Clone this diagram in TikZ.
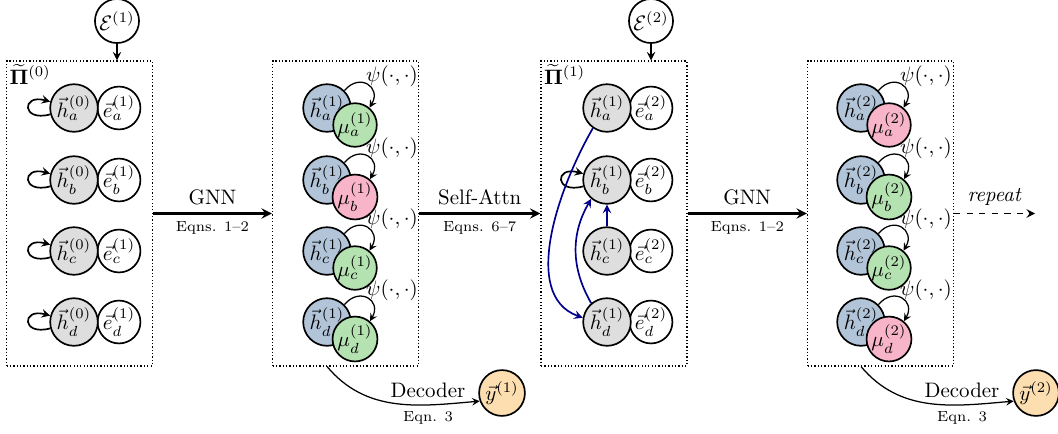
\documentclass[tikz,border=0pt]{standalone}
\usepackage{amsmath}
\usepackage{amssymb}
\usetikzlibrary{shapes}

\definecolor{hgray}{RGB}{222,222,222}
\definecolor{hblue}{RGB}{178,196,216}
\definecolor{mgreen}{RGB}{180,226,176}
\definecolor{mpink}{RGB}{248,180,200}
\definecolor{yorange}{RGB}{253,222,176}
\definecolor{attn}{RGB}{0,0,140}

\begin{document}
\begin{tikzpicture}[x=0.0168cm, y=0.0168cm, >=stealth,
  hnode/.style={circle, draw, thick, inner sep=0pt, minimum size=0.80cm, fill=#1},
  enode/.style={circle, draw, thick, inner sep=0pt, minimum size=0.72cm, fill=white},
  mnode/.style={circle, draw, thick, inner sep=0pt, minimum size=0.67cm, fill=#1},
  ynode/.style={circle, draw, thick, inner sep=0pt, minimum size=0.77cm, fill=yorange},
  panel/.style={draw, densely dotted, semithick, minimum width=2.45cm, minimum height=5.12cm},
  selfloop/.style={->, thick, looseness=6},
  psiarrow/.style={->, semithick, looseness=2}]

  \useasboundingbox (0,0) rectangle (1058,-433);

  % Pi^(0)
  \node[panel] (P0) at (79.5,-213.5) {};
  \node[anchor=north west, inner sep=1.5pt] (T0) at (P0.north west) {$\widetilde{\mathbf{\Pi}}^{(0)}$};
  \node[enode, minimum size=0.74cm] (X1) at (117,-21) {$\mathcal{E}^{(1)}$};
  \draw[->, thick] (X1) -- (X1 |- P0.north);

  \node[enode] (E0a) at (119,-108) {$\vec{e}_a^{(1)}$};
  \node[hnode=hgray] (H0a) at (74,-108) {$\vec{h}_a^{(0)}$};
  \node[enode] (E0b) at (119,-180) {$\vec{e}_b^{(1)}$};
  \node[hnode=hgray] (H0b) at (74,-180) {$\vec{h}_b^{(0)}$};
  \node[enode] (E0c) at (119,-251) {$\vec{e}_c^{(1)}$};
  \node[hnode=hgray] (H0c) at (74,-251) {$\vec{h}_c^{(0)}$};
  \node[enode] (E0d) at (119,-322) {$\vec{e}_d^{(1)}$};
  \node[hnode=hgray] (H0d) at (74,-322) {$\vec{h}_d^{(0)}$};
  \draw[selfloop] (H0a.195) to[out=195, in=165] (H0a.165);
  \draw[selfloop] (H0b.195) to[out=195, in=165] (H0b.165);
  \draw[selfloop] (H0c.195) to[out=195, in=165] (H0c.165);
  \draw[selfloop] (H0d.195) to[out=195, in=165] (H0d.165);

  % after GNN
  \node[panel] (P1) at (345.5,-213.5) {};
  \node[hnode=hblue] (H1a) at (327,-108) {$\vec{h}_a^{(1)}$};
  \node[mnode=mgreen] (M1a) at (355,-125) {$\mu_a^{(1)}$};
  \node[hnode=hblue] (H1b) at (327,-180) {$\vec{h}_b^{(1)}$};
  \node[mnode=mpink] (M1b) at (355,-197) {$\mu_b^{(1)}$};
  \node[hnode=hblue] (H1c) at (327,-251) {$\vec{h}_c^{(1)}$};
  \node[mnode=mgreen] (M1c) at (355,-268) {$\mu_c^{(1)}$};
  \node[hnode=hblue] (H1d) at (327,-322) {$\vec{h}_d^{(1)}$};
  \node[mnode=mgreen] (M1d) at (355,-339) {$\mu_d^{(1)}$};
  \node (S1a) at (392,-76) {$\psi(\cdot,\cdot)$};
  \node (S1b) at (392,-148) {$\psi(\cdot,\cdot)$};
  \node (S1c) at (392,-219) {$\psi(\cdot,\cdot)$};
  \node (S1d) at (392,-290) {$\psi(\cdot,\cdot)$};
  \draw[psiarrow] (H1a.45) to[out=50, in=60] (M1a.50);
  \draw[psiarrow] (H1b.45) to[out=50, in=60] (M1b.50);
  \draw[psiarrow] (H1c.45) to[out=50, in=60] (M1c.50);
  \draw[psiarrow] (H1d.45) to[out=50, in=60] (M1d.50);

  \node[ynode] (Y1) at (502,-393) {$\vec{y}^{(1)}$};
  \draw[->, semithick] (P1.south -| H1a) to[out=-50, in=185] (Y1.200);
  \node (D1) at (428,-390) {Decoder};
  \node[font=\scriptsize] (Q1) at (428,-418) {Eqn. 3};

  % Pi^(1)
  \node[panel] (P2) at (614,-213.5) {};
  \node[anchor=north west, inner sep=1.5pt] (T2) at (P2.north west) {$\widetilde{\mathbf{\Pi}}^{(1)}$};
  \node[enode, minimum size=0.74cm] (X2) at (651,-21) {$\mathcal{E}^{(2)}$};
  \draw[->, thick] (X2) -- (X2 |- P2.north);

  \node[enode] (E2a) at (651,-108) {$\vec{e}_a^{(2)}$};
  \node[hnode=hgray] (H2a) at (607,-108) {$\vec{h}_a^{(1)}$};
  \node[enode] (E2b) at (651,-180) {$\vec{e}_b^{(2)}$};
  \node[hnode=hgray] (H2b) at (607,-180) {$\vec{h}_b^{(1)}$};
  \node[enode] (E2c) at (651,-251) {$\vec{e}_c^{(2)}$};
  \node[hnode=hgray] (H2c) at (607,-251) {$\vec{h}_c^{(1)}$};
  \node[enode] (E2d) at (651,-322) {$\vec{e}_d^{(2)}$};
  \node[hnode=hgray] (H2d) at (607,-322) {$\vec{h}_d^{(1)}$};
  \draw[selfloop] (H2b.195) to[out=195, in=165] (H2b.165);
  \draw[->, thick, attn] (H2c) -- (H2b);
  \draw[->, thick, attn] (H2d.130) to[out=120, in=240] (H2b.230);
  \draw[->, thick, attn] (H2a.235) to[out=240, in=160, looseness=0.9] (H2d.170);

  % after GNN
  \node[panel] (P3) at (880.5,-213.5) {};
  \node[hnode=hblue] (H3a) at (861,-108) {$\vec{h}_a^{(2)}$};
  \node[mnode=mpink] (M3a) at (889,-125) {$\mu_a^{(2)}$};
  \node[hnode=hblue] (H3b) at (861,-180) {$\vec{h}_b^{(2)}$};
  \node[mnode=mgreen] (M3b) at (889,-197) {$\mu_b^{(2)}$};
  \node[hnode=hblue] (H3c) at (861,-251) {$\vec{h}_c^{(2)}$};
  \node[mnode=mgreen] (M3c) at (889,-268) {$\mu_c^{(2)}$};
  \node[hnode=hblue] (H3d) at (861,-322) {$\vec{h}_d^{(2)}$};
  \node[mnode=mpink] (M3d) at (889,-339) {$\mu_d^{(2)}$};
  \node (S3a) at (926,-76) {$\psi(\cdot,\cdot)$};
  \node (S3b) at (926,-148) {$\psi(\cdot,\cdot)$};
  \node (S3c) at (926,-219) {$\psi(\cdot,\cdot)$};
  \node (S3d) at (926,-290) {$\psi(\cdot,\cdot)$};
  \draw[psiarrow] (H3a.45) to[out=50, in=60] (M3a.50);
  \draw[psiarrow] (H3b.45) to[out=50, in=60] (M3b.50);
  \draw[psiarrow] (H3c.45) to[out=50, in=60] (M3c.50);
  \draw[psiarrow] (H3d.45) to[out=50, in=60] (M3d.50);

  \node[ynode] (Y2) at (1036,-393) {$\vec{y}^{(2)}$};
  \draw[->, semithick] (P3.south -| H3a) to[out=-50, in=185] (Y2.200);
  \node (D2) at (962,-390) {Decoder};
  \node[font=\scriptsize] (Q2) at (962,-418) {Eqn. 3};

  % steps
  \draw[->, very thick] (P0) -- node[above] (L0) {GNN}
    node[below, font=\scriptsize] (N0) {Eqns. 1--2} (P1);
  \draw[->, very thick] (P1) -- node[above] (L1) {Self-Attn}
    node[below, font=\scriptsize] (N1) {Eqns. 6--7} (P2);
  \draw[->, very thick] (P2) -- node[above] (L2) {GNN}
    node[below, font=\scriptsize] (N2) {Eqns. 1--2} (P3);
  \coordinate (R) at (1035,-213.5);
  \draw[->, thick, dashed] (P3) -- node[above] (L3) {\textit{repeat}} (R);

\end{tikzpicture}
\end{document}
